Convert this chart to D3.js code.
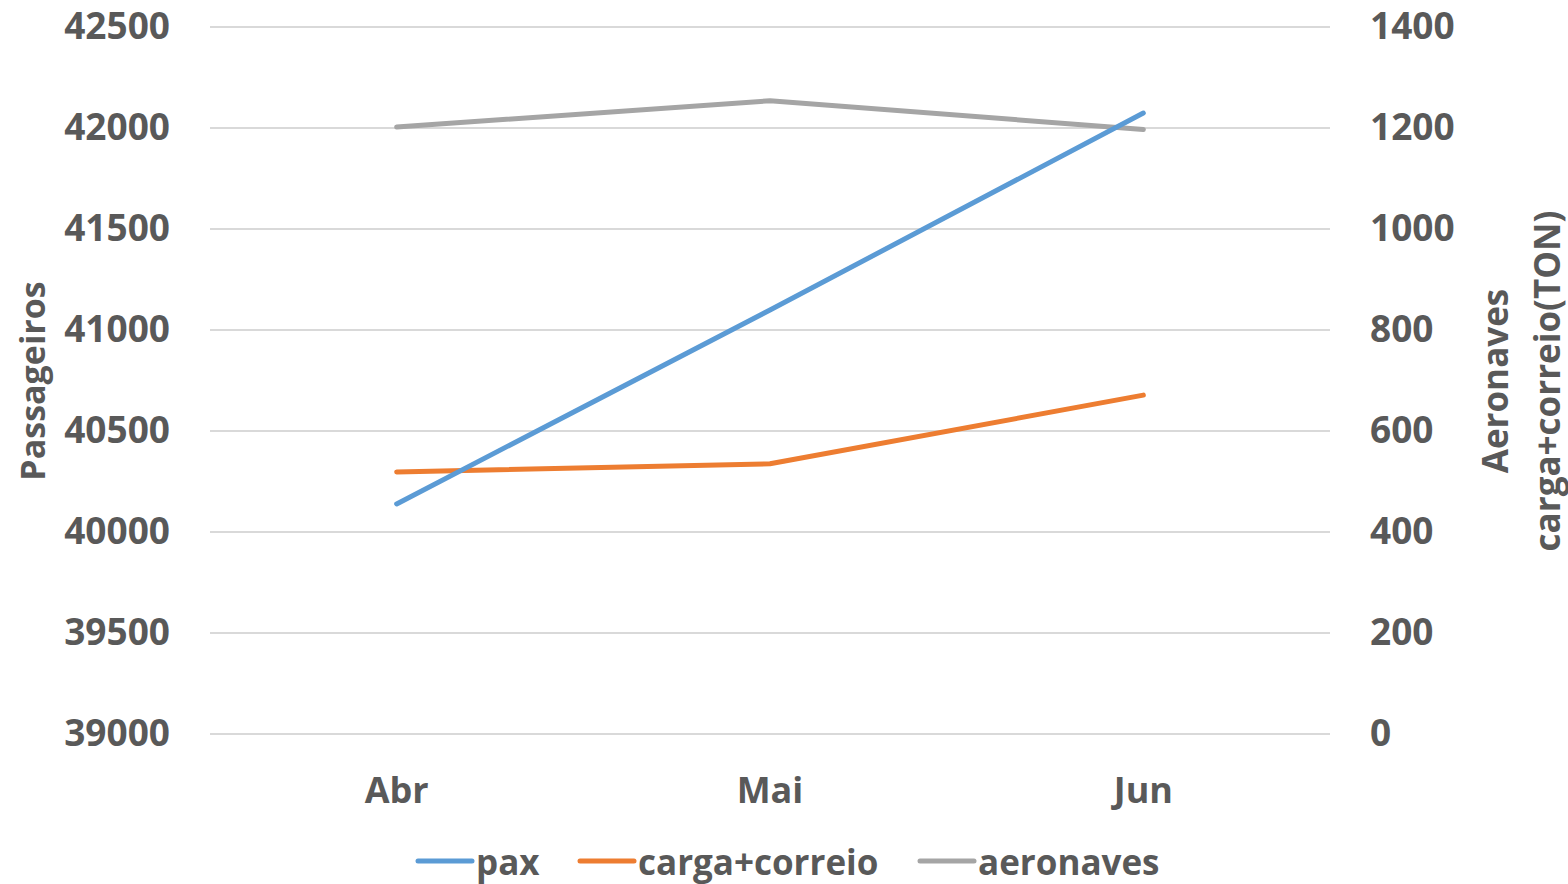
<!DOCTYPE html>
<html>
<head>
<meta charset="utf-8">
<script src="https://cdn.jsdelivr.net/npm/d3@7"></script>
<style>
body{margin:0;background:#fff}
text{font-family:"Open Sans",sans-serif;font-weight:700;fill:#595959}
</style>
</head>
<body>
<div class="chart"></div>
<script>
const months=['Abr','Mai','Jun']
const pax=[40139,41099,42074]
const carga=[519,535,671]
const aeronaves=[1202,1254,1197]
const leftTicks=[39000,39500,40000,40500,41000,41500,42000,42500]
const rightTicks=[0,200,400,600,800,1000,1200,1400]

const width=1568,height=884
const plot={left:210,right:1330,top:27,bottom:734}

const svg=d3.select('.chart').append('svg')
	.attr('width',width)
	.attr('height',height)

const x=d3.scaleBand()
	.domain(months)
	.range([plot.left,plot.right])
const cx=d=>x(d)+x.bandwidth()/2

const yLeft=d3.scaleLinear()
	.domain([39000,42500])
	.range([plot.bottom,plot.top])

const yRight=d3.scaleLinear()
	.domain([0,1400])
	.range([plot.bottom,plot.top])

// gridlines
svg.append('g')
	.selectAll('line')
	.data(leftTicks)
	.join('line')
	.attr('x1',plot.left)
	.attr('x2',plot.right)
	.attr('y1',d=>yLeft(d))
	.attr('y2',d=>yLeft(d))
	.attr('stroke','#d9d9d9')
	.attr('stroke-width',2)

const leftAxis=svg.append('g')
	.attr('transform',`translate(${plot.left-40},0)`)
	.call(d3.axisLeft(yLeft).tickValues(leftTicks).tickSize(0).tickPadding(0).tickFormat(d3.format('d')))
leftAxis.select('.domain').remove()
leftAxis.selectAll('text').attr('font-size',37).attr('font-family',null).attr('fill',null)

const rightAxis=svg.append('g')
	.attr('transform',`translate(${plot.right+40},0)`)
	.call(d3.axisRight(yRight).tickValues(rightTicks).tickSize(0).tickPadding(0).tickFormat(d3.format('d')))
rightAxis.select('.domain').remove()
rightAxis.selectAll('text').attr('font-size',37).attr('font-family',null).attr('fill',null)

const xAxis=svg.append('g')
	.attr('transform',`translate(0,${plot.bottom+37})`)
	.call(d3.axisBottom(x).tickSize(0).tickPadding(0))
xAxis.select('.domain').remove()
xAxis.selectAll('text').attr('font-size',36).attr('font-family',null).attr('fill',null).attr('dy','0.9em')

// axis titles
svg.append('text')
	.attr('transform','translate(32,381) rotate(-90)')
	.attr('text-anchor','middle')
	.attr('dominant-baseline','central')
	.attr('font-size',34)
	.text('Passageiros')

svg.append('text')
	.attr('transform','translate(1494,381) rotate(-90)')
	.attr('text-anchor','middle')
	.attr('dominant-baseline','central')
	.attr('font-size',35)
	.text('Aeronaves')

svg.append('text')
	.attr('transform','translate(1546,381) rotate(-90)')
	.attr('text-anchor','middle')
	.attr('dominant-baseline','central')
	.attr('font-size',35)
	.text('carga+correio(TON)')

const series=[
	{name:'pax',values:pax,scale:yLeft,color:'#5b9bd5'},
	{name:'carga+correio',values:carga,scale:yRight,color:'#ed7d31'},
	{name:'aeronaves',values:aeronaves,scale:yRight,color:'#a5a5a5'}
]

const order=[series[2],series[1],series[0]]
order.forEach(s=>{
	const line=d3.line()
		.x((d,i)=>cx(months[i]))
		.y(d=>s.scale(d))
	svg.append('path')
		.datum(s.values)
		.attr('d',line)
		.attr('fill','none')
		.attr('stroke',s.color)
		.attr('stroke-width',5)
		.attr('stroke-linecap','round')
		.attr('stroke-linejoin','round')
})

// legend
const legendX=[418,580,920]
const legend=svg.append('g')
	.selectAll('g')
	.data(series)
	.join('g')
	.attr('transform',(d,i)=>`translate(${legendX[i]},861)`)
legend.append('line')
	.attr('x1',0)
	.attr('x2',54)
	.attr('stroke',d=>d.color)
	.attr('stroke-width',5)
	.attr('stroke-linecap','round')
legend.append('text')
	.attr('x',58)
	.attr('dominant-baseline','central')
	.attr('font-size',35)
	.text(d=>d.name)
</script>
</body>
</html>
